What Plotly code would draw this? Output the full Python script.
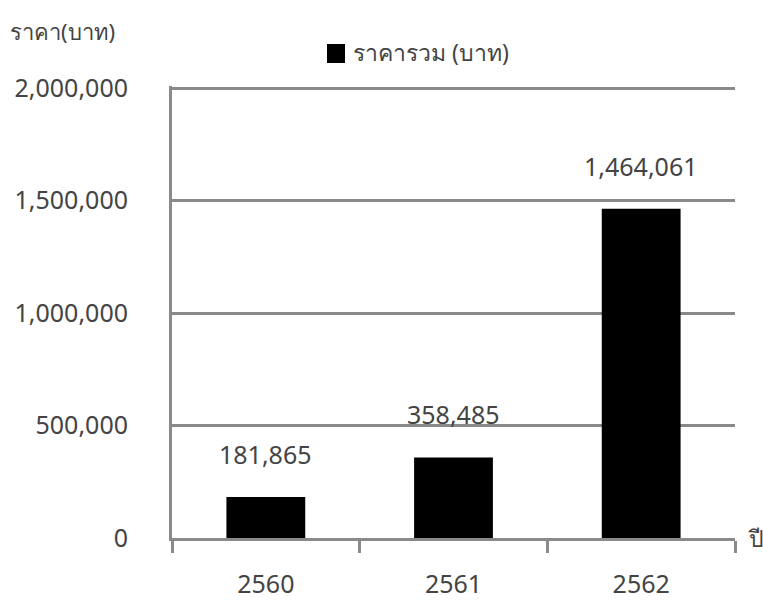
import plotly.graph_objects as go

# Total price per Buddhist-era year
years = ["2560", "2561", "2562"]
totals = [181865, 358485, 1464061]
series_name = "ราคารวม (บาท)"
y_title = "ราคา(บาท)"
x_title = "ปี"
y_ticks = [0, 500000, 1000000, 1500000, 2000000]
y_tick_text = ["0", "500,000", "1,000,000", "1,500,000", "2,000,000"]

FONT = "Noto Sans, Tahoma, sans-serif"
TEXT = "#444444"
GRID = "#8a8a8a"
Y_TOP = 2010000  # a touch above 2,000,000 so the top gridline is kept

# plot box: x 172..735, y 86..538 (px)
PL, PR, PT, PB = 172, 735, 86, 538
PW, PH = PR - PL, PB - PT


def px_x(x):
    return (x - PL) / PW


def px_y(y):
    return (PB - y) / PH


fig = go.Figure(
    go.Bar(
        x=years,
        y=totals,
        name=series_name,
        marker=dict(color="#000000", line=dict(width=0)),
        showlegend=False,
    )
)

# value labels floating above each bar (category index positions)
for i, v in enumerate(totals):
    fig.add_annotation(
        x=i, y=v, text=f"{v:,}", showarrow=False,
        yanchor="middle", yshift=43,
        font=dict(family=FONT, size=25, color=TEXT),
    )

# legend swatch and label
fig.add_shape(
    type="rect", xref="paper", yref="paper",
    x0=px_x(327), x1=px_x(345), y0=px_y(63), y1=px_y(44),
    fillcolor="#000000", line=dict(width=0),
)
fig.add_annotation(
    xref="paper", yref="paper", x=px_x(351), y=px_y(52),
    text=series_name, showarrow=False, xanchor="left", yanchor="middle",
    font=dict(family=FONT, size=23, color=TEXT),
)

# axis titles
fig.add_annotation(
    xref="paper", yref="paper", x=px_x(8), y=px_y(31),
    text=y_title, showarrow=False, xanchor="left", yanchor="middle",
    font=dict(family=FONT, size=22, color=TEXT),
)
fig.add_annotation(
    xref="paper", yref="paper", x=px_x(746), y=px_y(538),
    text=x_title, showarrow=False, xanchor="left", yanchor="middle",
    font=dict(family=FONT, size=23, color=TEXT),
)

fig.update_layout(
    width=763, height=604,
    margin=dict(l=PL, r=763 - PR, t=PT, b=604 - PB, autoexpand=False),
    paper_bgcolor="white", plot_bgcolor="white",
    bargap=0.58,
    font=dict(family=FONT, size=25, color=TEXT),
)
fig.update_xaxes(
    type="category", range=[-0.5, 2.5], automargin=False,
    showline=True, linecolor=GRID, linewidth=3,
    ticks="outside", tickson="boundaries", ticklen=12, tickwidth=3, tickcolor=GRID,
    ticklabelstandoff=22, tickangle=0,
    showgrid=False,
    tickfont=dict(family=FONT, size=25, color=TEXT),
)
fig.update_yaxes(
    range=[0, Y_TOP], automargin=False,
    tickvals=y_ticks, ticktext=y_tick_text,
    showline=True, linecolor=GRID, linewidth=3,
    showgrid=True, gridcolor=GRID, gridwidth=3,
    zeroline=False,
    ticks="", ticklabelstandoff=36,
    tickfont=dict(family=FONT, size=25, color=TEXT),
)

fig.write_html("out.html")
